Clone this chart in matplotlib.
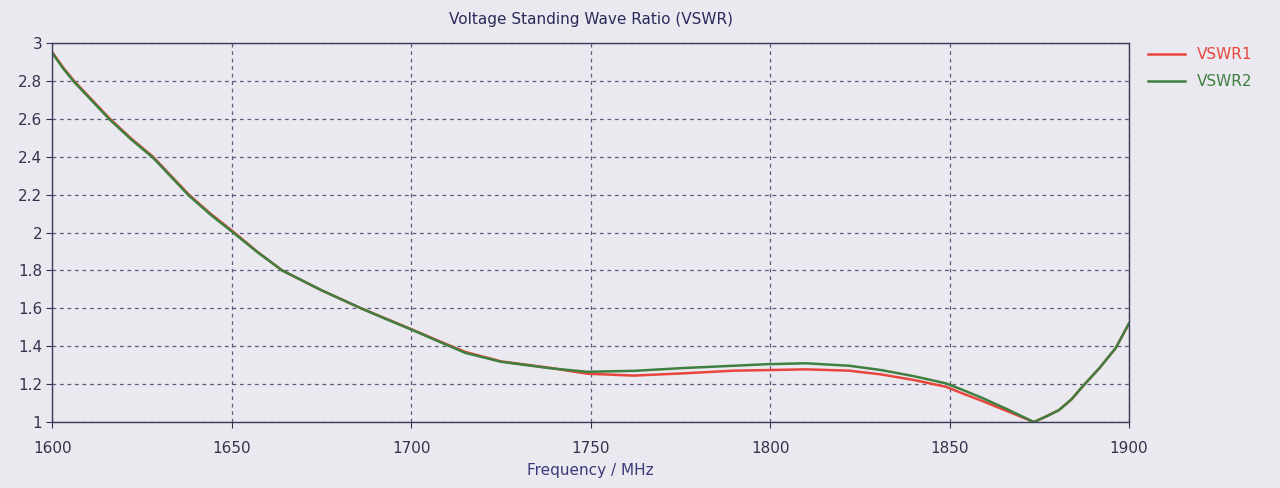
import matplotlib
matplotlib.use("Agg")
import matplotlib.pyplot as plt
from matplotlib.ticker import MultipleLocator, FuncFormatter

freq = [1600, 1603, 1606, 1611, 1616, 1622, 1628, 1633, 1638, 1644, 1650, 1657,
        1664, 1675, 1686, 1693, 1700, 1708, 1715, 1725, 1739,
        1749, 1762, 1776, 1790, 1799, 1810, 1822, 1831, 1840, 1849, 1854, 1859, 1866, 1873.5,
        1877, 1880.5, 1884, 1887, 1891.7, 1896.3, 1900]
vswr1 = [2.95, 2.87, 2.80, 2.70, 2.60, 2.495, 2.40, 2.30, 2.20, 2.10, 2.01, 1.90,
         1.80, 1.695, 1.60, 1.545, 1.49, 1.425, 1.37, 1.32, 1.285,
         1.255, 1.245, 1.257, 1.271, 1.274, 1.278, 1.271, 1.251, 1.222, 1.186, 1.148, 1.112, 1.058, 1.0,
         1.03, 1.063, 1.12, 1.186, 1.283, 1.39, 1.52]
vswr2 = [2.945, 2.865, 2.795, 2.695, 2.595, 2.49, 2.395, 2.295, 2.195, 2.095, 2.005, 1.898,
         1.80, 1.695, 1.60, 1.543, 1.488, 1.422, 1.365, 1.318, 1.283,
         1.265, 1.27, 1.285, 1.297, 1.305, 1.31, 1.297, 1.274, 1.242, 1.204, 1.167, 1.128, 1.068, 1.0,
         1.03, 1.063, 1.12, 1.186, 1.283, 1.39, 1.52]

xticks = [1600, 1650, 1700, 1750, 1800, 1850, 1900]
title = "Voltage Standing Wave Ratio (VSWR)"
xlabel = "Frequency / MHz"
names = ["VSWR1", "VSWR2"]
colors = ["#e8453c", "#3f7f3f"]

bg = "#ebe9f0"
fig = plt.figure(figsize=(12.8, 4.88), dpi=100, facecolor=bg)
ax = fig.add_axes([0.041, 0.1352, 0.841, 0.7767], facecolor=bg)

for vals, name, c in zip([vswr1, vswr2], names, colors):
    ax.plot(freq, vals, color=c, lw=1.8, label=name)

ax.set_xlim(1600, 1900)
ax.set_ylim(1, 3)
ax.set_xticks(xticks)
ax.yaxis.set_major_locator(MultipleLocator(0.2))
ax.yaxis.set_major_formatter(FuncFormatter(lambda v, p: f"{v:g}"))
ax.grid(True, color="#5a5a7a", ls=(0, (3, 3)), lw=0.9)
ax.tick_params(axis="x", pad=10)
ax.tick_params(axis="both", labelsize=11, colors="#33334d", length=4, direction="out")
for s in ax.spines.values():
    s.set_color("#3a3a5a")
    s.set_linewidth(1.0)

ax.set_title(title, fontsize=11, color="#2a2a5a", pad=14)
ax.set_xlabel(xlabel, fontsize=11, color="#3a3a7a", labelpad=5)

leg = ax.legend(loc="upper left", bbox_to_anchor=(1.005, 1.025), frameon=False,
                fontsize=11, handlelength=2.4, labelspacing=0.8)
for t, c in zip(leg.get_texts(), colors):
    t.set_color(c)

fig.savefig("out.png", dpi=100, facecolor=bg)
